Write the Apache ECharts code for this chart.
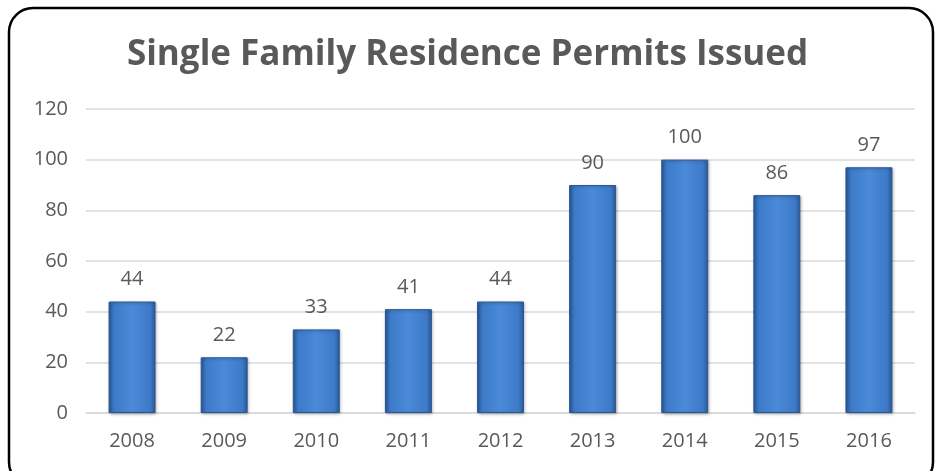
<!DOCTYPE html>
<html><head><meta charset="utf-8">
<script src="https://cdn.jsdelivr.net/npm/echarts@6/dist/echarts.min.js"></script>
<style>html,body{margin:0;padding:0;background:#fff}#c{width:935px;height:471px}</style>
</head><body><div id="c"></div>
<script>
const title = "Single Family Residence Permits Issued";
const years = ["2008","2009","2010","2011","2012","2013","2014","2015","2016"];
const permits = [44,22,33,41,44,90,100,86,97];
const yTicks = {min:0, max:120, interval:20};

const chart = echarts.init(document.getElementById('c'), null, {renderer:'canvas'});
chart.setOption({
  animation:false,
  title:{text:title, left:'center', top:33, textStyle:{fontFamily:'Open Sans', fontWeight:'bold', fontSize:35, color:'#595959'}},
  graphic:[{type:'rect', shape:{x:9, y:8, width:924, height:478, r:24}, style:{fill:'none', stroke:'#000', lineWidth:2.5}, z:-1}],
  grid:{left:86, right:20, top:109, bottom:58},
  xAxis:{type:'category', data:years, axisLine:{lineStyle:{color:'#d9d9d9', width:1.5}}, axisTick:{show:false},
    axisLabel:{color:'#595959', fontSize:20, fontFamily:'Open Sans', margin:18}},
  yAxis:{type:'value', min:yTicks.min, max:yTicks.max, interval:yTicks.interval,
    axisLine:{show:false}, axisTick:{show:false},
    splitLine:{lineStyle:{color:'#d9d9d9', width:1.5}},
    axisLabel:{color:'#595959', fontSize:20, fontFamily:'Open Sans', margin:18}},
  series:[{type:'bar', data:permits, barWidth:'51%',
    itemStyle:{color:new echarts.graphic.LinearGradient(0,0,1,0,[
      {offset:0,color:'#2A5A9A'},{offset:0.12,color:'#3D7BC9'},{offset:0.5,color:'#4A8AD8'},{offset:0.88,color:'#3D7BC9'},{offset:1,color:'#2A5A9A'}]),
      borderColor:'#2B5793', borderWidth:1, shadowColor:'rgba(0,0,0,0.3)', shadowBlur:3, shadowOffsetX:1, shadowOffsetY:1},
    label:{show:true, position:'top', distance:12, color:'#595959', fontSize:20, fontFamily:'Open Sans'}}]
});
</script></body></html>
